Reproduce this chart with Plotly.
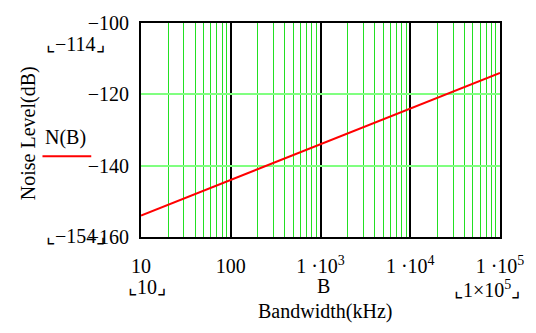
import plotly.graph_objects as go

# Data
bandwidth_khz = [10, 100, 1000, 10000, 100000]
noise_db = [-154, -144, -134, -124, -114]
x_tick_vals = [10, 100, 1000, 10000, 100000]
x_tick_text = ["10", "100", "1 ·10<sup>3</sup>", "1 ·10<sup>4</sup>", "1 ·10<sup>5</sup>"]
y_tick_vals = [-100, -120, -140, -160]
y_tick_text = ["−100", "−120", "−140", "−160"]

FONT = "Liberation Serif"
FS = 20
L, R, T, B = 141, 27, 12, 96
W, H = 536, 333
PW, PH = W - L - R, H - T - B

fig = go.Figure()
fig.add_trace(go.Scatter(x=bandwidth_khz, y=noise_db, mode="lines",
                         line=dict(color="#ff0000", width=2), showlegend=False))

fig.update_layout(
    width=W, height=H,
    margin=dict(l=L, r=R, t=T, b=B),
    paper_bgcolor="white", plot_bgcolor="white",
    font=dict(family=FONT, size=FS, color="black"),
    xaxis=dict(type="log", range=[1, 5], tickvals=x_tick_vals, ticktext=x_tick_text,
               showgrid=True, gridcolor="black", gridwidth=2,
               minor=dict(dtick="D1", showgrid=True, gridcolor="#22e022", gridwidth=1, ticks=""),
               showline=True, linecolor="black", linewidth=2, mirror=True,
               ticks="", ticklabelstandoff=10, zeroline=False,
               tickfont=dict(family=FONT, size=FS)),
    yaxis=dict(range=[-160, -100], tickvals=y_tick_vals, ticktext=y_tick_text,
               showgrid=True, gridcolor="#80ff80", gridwidth=2,
               showline=True, linecolor="black", linewidth=2, mirror=True,
               ticks="", ticklabelstandoff=6, zeroline=False,
               tickfont=dict(family=FONT, size=FS)),
)


def px(x):
    return (x - L) / PW


def py(y):
    return 1 - (y - T) / PH


ann = [
    dict(text="Noise Level(dB)", x=25, y=128, textangle=-90),
    dict(text="N(B)", x=64, y=132),
    dict(text="⌞−114⌟", x=74, y=34),
    dict(text="⌞−154⌟", x=74, y=236),
    dict(text="⌞10⌟", x=147, y=290),
    dict(text="B", x=328, y=289),
    dict(text="⌞1×10<sup>5</sup>⌟", x=496, y=292),
    dict(text="Bandwidth(kHz)", x=330, y=315),
]
for a in ann:
    fig.add_annotation(text=a["text"], xref="paper", yref="paper",
                       x=px(a["x"]), y=py(a["y"]),
                       xanchor="center", yanchor="middle", showarrow=False,
                       textangle=a.get("textangle", 0),
                       font=dict(family=FONT, size=FS, color="black"))
# legend key line
fig.add_shape(type="line", xref="paper", yref="paper",
              x0=px(40), x1=px(90), y0=py(152), y1=py(152),
              line=dict(color="#ff0000", width=2))

fig.write_html("out.html")
